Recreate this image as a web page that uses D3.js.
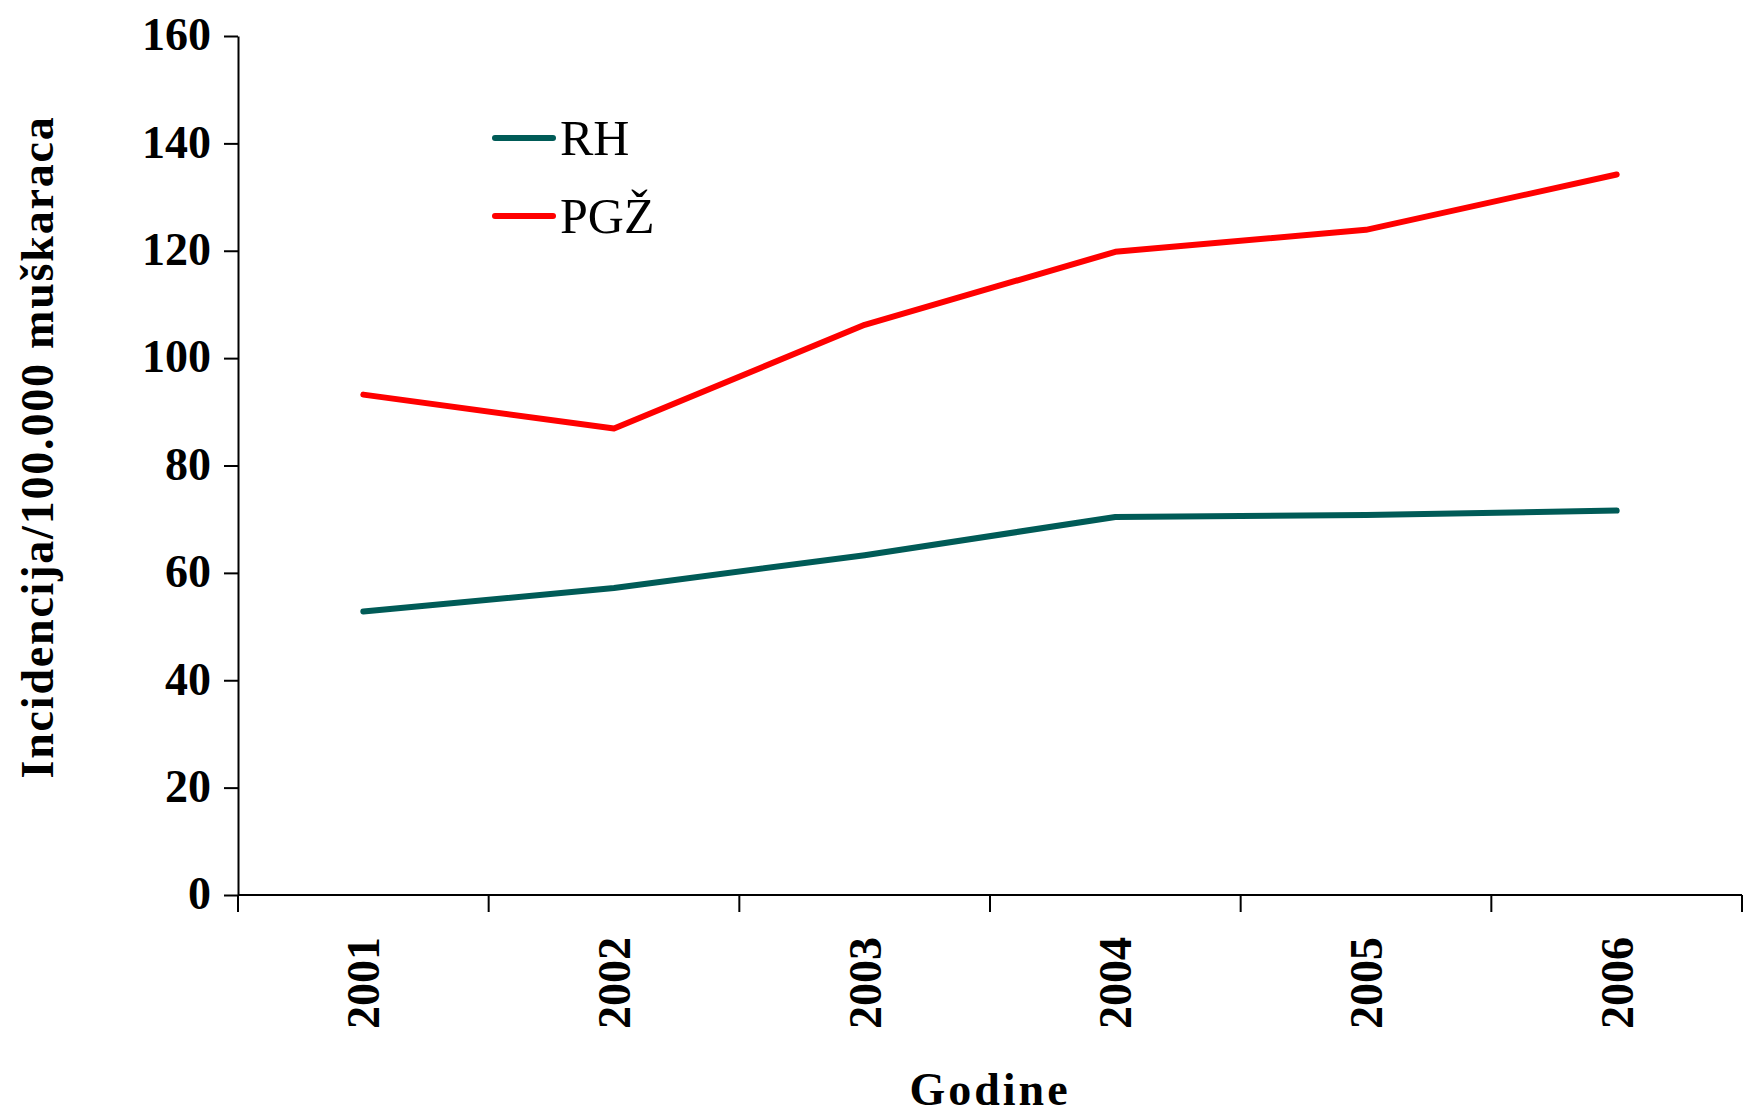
<!DOCTYPE html>
<html>
<head>
<meta charset="utf-8">
<script src="https://cdn.jsdelivr.net/npm/d3@7"></script>
<style>
  html, body { margin: 0; padding: 0; background: #fff; }
  svg { display: block; }
</style>
</head>
<body>
<svg id="chart" width="1743" height="1114"></svg>
<script>
// Years on the category axis
const years = ["2001", "2002", "2003", "2004", "2005", "2006"];
// Incidence per 100,000 men
const rhValues = [52.8, 57.2, 63.3, 70.4, 70.8, 71.6];
const pgzValues = [93.2, 86.9, 106.2, 119.8, 123.9, 134.2];
const yTicks = [0, 20, 40, 60, 80, 100, 120, 140, 160];
const seriesNames = ["RH", "PGŽ"];
const seriesColors = ["#005b57", "#ff0000"];

const series = [
  { name: seriesNames[0], values: rhValues, color: seriesColors[0] },
  { name: seriesNames[1], values: pgzValues, color: seriesColors[1] }
];

const svg = d3.select("#chart");
const plotLeft = 238, plotRight = 1742, plotTop = 36, plotBottom = 895;
const serif = "'Liberation Serif', 'Times New Roman', serif";

const x = d3.scaleBand().domain(years).range([plotLeft, plotRight]).padding(0);
const y = d3.scaleLinear().domain([0, 160]).range([plotBottom, plotTop]);

// Y axis
const yAxis = svg.append("g")
  .attr("transform", `translate(${plotLeft},0)`)
  .call(d3.axisLeft(y).tickValues(yTicks).tickSize(14).tickPadding(13).tickSizeOuter(0));
yAxis.select(".domain").attr("stroke", "#000").attr("stroke-width", 2);
yAxis.selectAll(".tick line").attr("stroke", "#000").attr("stroke-width", 2);
yAxis.selectAll(".tick text")
  .attr("fill", "#000")
  .attr("font-family", serif)
  .attr("font-weight", "bold")
  .attr("font-size", 46)
  .attr("dy", "0.3em");

// X axis: ticks at category boundaries
const xAxisG = svg.append("g").attr("transform", `translate(0,${plotBottom})`);
xAxisG.append("line")
  .attr("x1", plotLeft).attr("x2", plotRight)
  .attr("y1", 0).attr("y2", 0)
  .attr("stroke", "#000").attr("stroke-width", 2);
const bounds = years.map(d => x(d)).concat([x(years[years.length - 1]) + x.bandwidth()]);
xAxisG.selectAll("line.tk").data(bounds).enter().append("line")
  .attr("class", "tk")
  .attr("x1", d => d).attr("x2", d => d)
  .attr("y1", 0).attr("y2", 17)
  .attr("stroke", "#000").attr("stroke-width", 2);
xAxisG.selectAll("text.yl").data(years).enter().append("text")
  .attr("class", "yl")
  .attr("transform", d => `translate(${x(d) + x.bandwidth() / 2 + 16},${42}) rotate(-90)`)
  .attr("text-anchor", "end")
  .attr("font-family", serif)
  .attr("font-weight", "bold")
  .attr("font-size", 46)
  .attr("fill", "#000")
  .text(d => d);

// Axis titles
svg.append("text")
  .attr("transform", `translate(53,447) rotate(-90)`)
  .attr("text-anchor", "middle")
  .attr("font-family", serif)
  .attr("font-weight", "bold")
  .attr("font-size", 46)
  .attr("letter-spacing", 1.8)
  .attr("fill", "#000")
  .text("Incidencija/100.000 muškaraca");

svg.append("text")
  .attr("x", 990).attr("y", 1105)
  .attr("text-anchor", "middle")
  .attr("font-family", serif)
  .attr("font-weight", "bold")
  .attr("font-size", 46)
  .attr("letter-spacing", 3)
  .attr("fill", "#000")
  .text("Godine");

// Series lines
const line = d3.line()
  .x((d, i) => x(years[i]) + x.bandwidth() / 2)
  .y(d => y(d));

svg.selectAll("path.series").data(series).enter().append("path")
  .attr("class", "series")
  .attr("d", d => line(d.values))
  .attr("fill", "none")
  .attr("stroke", d => d.color)
  .attr("stroke-width", 6)
  .attr("stroke-linejoin", "round")
  .attr("stroke-linecap", "round");

// Legend
const legend = svg.append("g");
const legendRows = [138, 216];
series.forEach((s, i) => {
  legend.append("line")
    .attr("x1", 495).attr("x2", 553)
    .attr("y1", legendRows[i]).attr("y2", legendRows[i])
    .attr("stroke", s.color).attr("stroke-width", 6)
    .attr("stroke-linecap", "round");
  legend.append("text")
    .attr("x", 560).attr("y", legendRows[i] + 17)
    .attr("font-family", serif)
    .attr("font-size", 50)
    .attr("fill", "#000")
    .text(s.name);
});
</script>
</body>
</html>
